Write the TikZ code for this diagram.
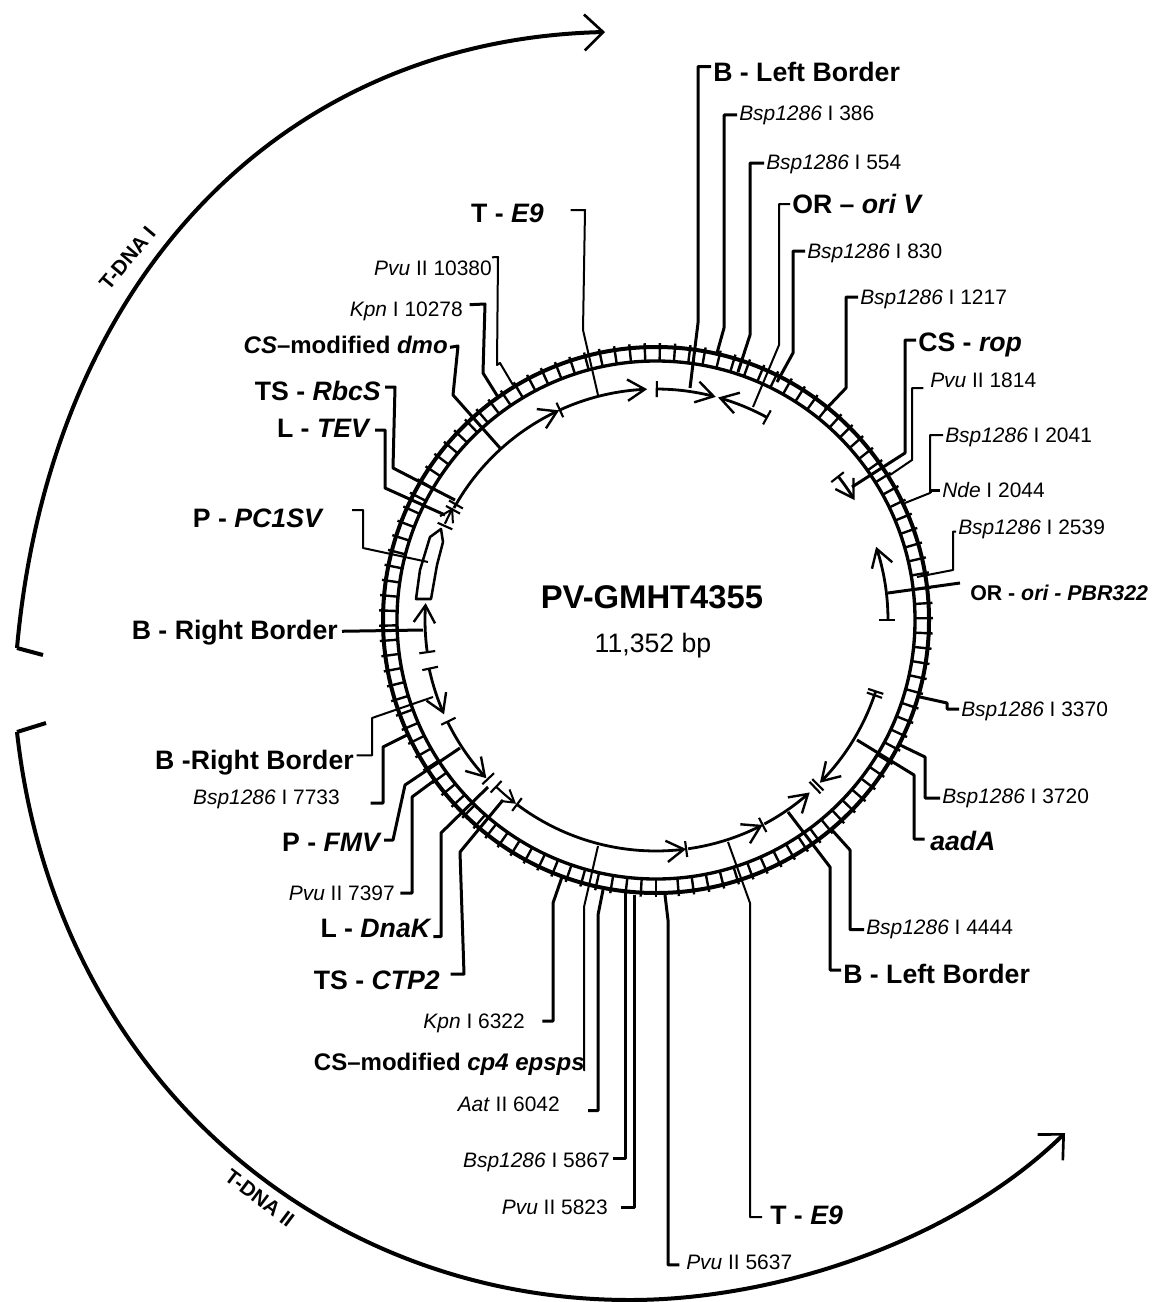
\documentclass[tikz,border=0pt]{standalone}
\usepackage{fontspec}
\setmainfont{Liberation Sans}
\usetikzlibrary{arrows.meta}

\tikzset{
    sitelabel/.style={inner sep=0pt, text height=11.3pt, text depth=0pt, font=\fontsize{15.7}{18}\selectfont},
    genelabel/.style={inner sep=0pt, text height=14.4pt, text depth=0pt, font=\bfseries\fontsize{20}{24}\selectfont},
    genesmall/.style={genelabel, text height=13pt, font=\bfseries\fontsize{18}{22}\selectfont},
    dnalabel/.style={inner sep=0pt, text height=11.3pt, text depth=0pt, font=\bfseries\fontsize{15.5}{18}\selectfont},
    thinlead/.style={line width=1.5pt, line join=round, shorten <=1.5pt},
    thicklead/.style={line width=2.25pt, line join=round, shorten <=1.5pt},
    featarc/.style={line width=2.1pt, -{Straight Barb[length=13pt,width=16pt,line width=1.8pt]}},
    featshort/.style={line width=1.6pt, -{Straight Barb[length=9pt,width=11pt,line width=1.5pt]}},
    featbar/.style={line width=1.6pt},
    ringtick/.style={line width=1.8pt},
    outerarc/.style={line width=3pt, -{Straight Barb[length=14pt,width=27pt,line width=2pt]}},
    hookend/.style={line width=3pt}
}

\begin{document}
\begin{tikzpicture}[x=0.75pt, y=-0.75pt]
    \useasboundingbox (0,0) rectangle (1174,1302);

    % plasmid ring and feature arcs, angles clockwise from east
    \begin{scope}[shift={(656,620)}]
        \draw[line width=3pt] (0,0) circle[radius=273];
        \draw[line width=2.5pt] (0,0) circle[radius=259];
        \foreach \n [evaluate=\n as \t using 90+\n*3.172] in {0,...,112}
            \draw[ringtick] (\t:259) -- (\t:277);

        \draw[featarc] plot[domain=172:184.2, samples=12] (\x:231);
        \draw[featshort] plot[domain=204.5:209, samples=6] (\x:232);
        \draw[featarc] plot[domain=209:245.2, samples=30] (\x:231);
        \draw[featarc] plot[domain=245.6:267.8, samples=20] (\x:231);
        \draw[featarc] plot[domain=270.2:285, samples=14] (\x:231);
        \draw[featarc] plot[domain=298.7:285.6, samples=14] (\x:231);
        \draw[featarc] plot[domain=321.8:328.9, samples=8] (\x:232);
        \draw[featarc] plot[domain=360:341.6, samples=16] (\x:232);
        \draw[featarc] plot[domain=18:44.8, samples=24] (\x:231);
        \draw[featarc] plot[domain=62:48.3, samples=14] (\x:231);
        \draw[featarc] plot[domain=82:62.5, samples=18] (\x:231);
        \draw[featarc] plot[domain=127:82.5, samples=36] (\x:231);
        \draw[featshort] plot[domain=133.8:127.3, samples=8] (\x:231);
        \draw[featarc] plot[domain=154:137, samples=16] (\x:232);
        \draw[featarc] plot[domain=167.9:156, samples=12] (\x:232);

        \foreach \t in {172,204,208.5,210,245.4,270.2,298.7,321.8,0,18,19,45.5,46.5,62.5,82.5,127,133.8,136.6,154,167.9}
            \draw[featbar] (\t:223) -- (\t:239);
    \end{scope}

    % P-PC1SV block
    \draw[line width=1.9pt, line join=round] (416,599) -- (420,570) -- (430,537) -- (441,529) -- (443,542) -- (437,565) -- (431,599) -- cycle;

    % T-DNA arcs
    \draw[hookend] (43,655) -- (17,648);
    \draw[outerarc] (17,648) .. controls (50,280) and (280,40) .. (605,32);
    \draw[hookend] (46,723) -- (17,732);
    \draw[outerarc] (17,732) .. controls (55,1075) and (320,1300) .. (630,1300) .. controls (770,1300) and (950,1245) .. (1065,1133);
    \node (tdnaa) [dnalabel, rotate=50] at (127,258) {T-DNA I};
    \node (tdnab) [dnalabel, rotate=-37] at (260,1198) {T-DNA II};

    % title
    \node (title) [font=\bfseries\fontsize{24.6}{28}\selectfont, inner sep=0pt, anchor=base] at (652,608) {PV-GMHT4355};
    \node (size) [font=\fontsize{20}{24}\selectfont, inner sep=0pt, anchor=base] at (653,652) {11,352 bp};

    % labels, right side
    \node (blefta) [genelabel, anchor=west] at (713,72) {B - Left Border};
    \node (bsp386) [sitelabel, anchor=west] at (739,113) {\textit{Bsp1286} I 386};
    \node (bsp554) [sitelabel, anchor=west] at (766,162) {\textit{Bsp1286} I 554};
    \node (oriv) [genelabel, anchor=west] at (792,204) {OR -- \textit{ori V}};
    \node (bsp830) [sitelabel, anchor=west] at (807,251) {\textit{Bsp1286} I 830};
    \node (bsp1217) [sitelabel, anchor=west] at (860,297) {\textit{Bsp1286} I 1217};
    \node (rop) [genelabel, anchor=west] at (918,342) {CS - \textit{rop}};
    \node (pvu1814) [sitelabel, anchor=west] at (930,380) {\textit{Pvu} II 1814};
    \node (bsp2041) [sitelabel, anchor=west] at (945,435) {\textit{Bsp1286} I 2041};
    \node (nde2044) [sitelabel, anchor=west] at (942,490) {\textit{Nde} I 2044};
    \node (bsp2539) [sitelabel, anchor=west] at (958,527) {\textit{Bsp1286} I 2539};
    \node (oripbr) [genelabel, text height=11.5pt, anchor=west, font=\bfseries\fontsize{16}{20}\selectfont] at (970,593) {OR - \textit{ori - PBR322}};
    \node (bsp3370) [sitelabel, anchor=west] at (961,709) {\textit{Bsp1286} I 3370};
    \node (bsp3720) [sitelabel, anchor=west] at (942,796) {\textit{Bsp1286} I 3720};
    \node (aada) [genelabel, anchor=west] at (930,841) {\textit{aadA}};
    \node (bsp4444) [sitelabel, anchor=west] at (866,927) {\textit{Bsp1286} I 4444};
    \node (bleftb) [genelabel, anchor=west] at (843,974) {B - Left Border};
    \node (eninb) [genelabel, anchor=west] at (770,1215) {T - \textit{E9}};
    \node (pvu5637) [sitelabel, anchor=west] at (686,1262) {\textit{Pvu} II 5637};

    % labels, left side
    \node (pvu5823) [sitelabel, anchor=east] at (608,1207) {\textit{Pvu} II 5823};
    \node (bsp5867) [sitelabel, anchor=east] at (610,1160) {\textit{Bsp1286} I 5867};
    \node (aat6042) [sitelabel, anchor=east] at (560,1104) {\textit{Aat} II 6042};
    \node (cpepsps) [genesmall, anchor=east] at (585,1062) {CS--modified \textit{cp4 epsps}};
    \node (kpn6322) [sitelabel, anchor=east] at (525,1021) {\textit{Kpn} I 6322};
    \node (ctptwo) [genelabel, anchor=east] at (440,980) {TS - \textit{CTP2}};
    \node (dnak) [genelabel, anchor=east] at (432,928) {L - \textit{DnaK}};
    \node (pvu7397) [sitelabel, anchor=east] at (395,893) {\textit{Pvu} II 7397};
    \node (fmv) [genelabel, anchor=east] at (382,842) {P - \textit{FMV}};
    \node (bsp7733) [sitelabel, anchor=east] at (340,797) {\textit{Bsp1286} I 7733};
    \node (brightb) [genelabel, anchor=east] at (354,760) {B -Right Border};
    \node (brighta) [genelabel, anchor=east] at (338,630) {B - Right Border};
    \node (pcsv) [genelabel, anchor=east] at (324,518) {P - \textit{PC1SV}};
    \node (tev) [genelabel, anchor=east] at (371,428) {L - \textit{TEV}};
    \node (rbcs) [genelabel, anchor=east] at (381,391) {TS - \textit{RbcS}};
    \node (dmo) [genesmall, anchor=east] at (448,345) {\textit{CS}--modified \textit{dmo}};
    \node (kpn10278) [sitelabel, anchor=east] at (463,309) {\textit{Kpn} I 10278};
    \node (pvu10380) [sitelabel, anchor=east] at (492,268) {\textit{Pvu} II 10380};
    \node (enina) [genelabel, anchor=east] at (544,213) {T - \textit{E9}};

    % free ends on the map
    \coordinate (bleftaend) at (690,388);
    \coordinate (bsp386end) at (717,353);
    \coordinate (bsp554end) at (738,372);
    \coordinate (orivend) at (753,407);
    \coordinate (bsp830end) at (777,382);
    \coordinate (bsp1217end) at (825,410);
    \coordinate (ropend) at (852,487);
    \coordinate (pvu1814end) at (890,475);
    \coordinate (ndeend) at (905,503);
    \coordinate (bsp2539end) at (917,577);
    \coordinate (oripbrend) at (888,593);
    \coordinate (bsp3370end) at (920,697);
    \coordinate (bsp3720end) at (898,744);
    \coordinate (aadaend) at (857,740);
    \coordinate (bsp4444end) at (832,830);
    \coordinate (bleftbend) at (788,812);
    \coordinate (eninbend) at (728,842);
    \coordinate (pvu5637end) at (665,895);
    \coordinate (pvu5823end) at (634,895);
    \coordinate (bsp5867end) at (625,893);
    \coordinate (aat6042end) at (603,890);
    \coordinate (cpepspsend) at (598,846);
    \coordinate (kpn6322end) at (562,877);
    \coordinate (ctptwoend) at (503,800);
    \coordinate (dnakend) at (488,787);
    \coordinate (pvu7397end) at (435,780);
    \coordinate (fmvend) at (460,748);
    \coordinate (bsp7733end) at (407,735);
    \coordinate (brightbend) at (433,697);
    \coordinate (brightaend) at (423,630);
    \coordinate (pcsvend) at (428,562);
    \coordinate (tevend) at (445,515);
    \coordinate (rbcsend) at (455,500);
    \coordinate (dmoend) at (500,448);
    \coordinate (kpn10278end) at (498,397);
    \coordinate (pvu10380end) at (513,385);
    \coordinate (eninaend) at (598,395);

    % leaders, right side
    \draw[thicklead] ([yshift=4pt]blefta.west) -| (698,323) -- (bleftaend);
    \draw[thicklead] ([yshift=-1.5pt]bsp386.west) -| (724,328) -- (bsp386end);
    \draw[thicklead] ([yshift=-0.8pt]bsp554.west) -| (750,335) -- (bsp554end);
    \draw[thinlead] (oriv.west) -| (779,345) -- (orivend);
    \draw[thicklead] (bsp830.west) -| (793,353) -- (bsp830end);
    \draw[thicklead] (bsp1217.west) -| (846,388) -- (bsp1217end);
    \draw[thicklead] ([yshift=1.5pt]rop.west) -| (905,453) -- (ropend);
    \draw[thinlead, shorten <=5pt] ([yshift=-6pt]pvu1814.west) -| (912,460) -- (pvu1814end);
    \draw[thinlead] (bsp2041.west) -| (930,493) -- (ndeend);
    \draw[thicklead] (nde2044.west) -| (930,493);
    \draw[thinlead] ([yshift=-3.5pt]bsp2539.west) -| (953,570) -- (bsp2539end);
    \draw[thicklead, shorten <=0pt] ([shift={(-7.5pt,7.5pt)}]oripbr.west) -- (oripbrend);
    \draw[thicklead] (bsp3370.west) -| (947,703) -- (bsp3370end);
    \draw[thicklead] ([yshift=-1.5pt]bsp3720.west) -| (925,757) -- (bsp3720end);
    \draw[thicklead, shorten <=4pt] ([yshift=1.5pt]aada.west) -| (914,775) -- (aadaend);
    \draw[thicklead] ([yshift=-2pt]bsp4444.west) -| (850,850) -- (bsp4444end);
    \draw[thicklead] ([yshift=3pt]bleftb.west) -| (830,867) -- (bleftbend);
    \draw[thinlead, shorten <=6pt] ([yshift=-1.5pt]eninb.west) -| (750,903) -- (eninbend);
    \draw[thicklead, shorten <=5pt] ([yshift=-2.2pt]pvu5637.west) -| (668,920) -- (pvu5637end);

    % leaders, left side
    \draw[thicklead, shorten <=10pt] (pvu5823.east) -| (634,895) -- (pvu5823end);
    \draw[thicklead, shorten <=2pt] ([yshift=1.5pt]bsp5867.east) -| (625,893) -- (bsp5867end);
    \draw[thicklead, shorten <=21pt] ([yshift=-5pt]aat6042.east) -| (598,915) -- (aat6042end);
    \draw[thinlead, shorten <=0pt] ([yshift=-6pt]cpepsps.east) -| (584,907) -- (cpepspsend);
    \draw[thicklead, shorten <=13pt] (kpn6322.east) -| (553,903) -- (kpn6322end);
    \draw[thicklead, shorten <=8pt] ([yshift=4.5pt]ctptwo.east) -- (464,974) -- (460,852) -- (ctptwoend);
    \draw[thicklead, shorten <=1pt] ([yshift=-6.5pt]dnak.east) -| (441,833) -- (dnakend);
    \draw[thicklead, shorten <=4pt] (pvu7397.east) -| (412,797) -- (pvu7397end);
    \draw[thicklead] ([yshift=1.5pt]fmv.east) -- (393,840) -- (405,785) -- (fmvend);
    \draw[thicklead, shorten <=23pt] ([yshift=-4.5pt]bsp7733.east) -| (383,747) -- (bsp7733end);
    \draw[thinlead, shorten <=2pt] ([yshift=3.5pt]brightb.east) -| (372,718) -- (brightbend);
    \draw[thicklead, shorten <=3pt] ([yshift=-1pt]brighta.east) -- (brightaend);
    \draw[thinlead, shorten <=21pt] ([yshift=6pt]pcsv.east) -| (363,548) -- (pcsvend);
    \draw[thicklead, shorten <=3pt] ([yshift=-1.5pt]tev.east) -| (385,488) -- (tevend);
    \draw[thicklead, shorten <=3pt] ([yshift=3pt]rbcs.east) -- (395,387) -- (393,468) -- (rbcsend);
    \draw[thicklead] ([yshift=-2pt]dmo.east) -- (458,346) -- (453,395) -- (dmoend);
    \draw[thicklead, shorten <=5pt] ([yshift=3pt]kpn10278.east) -- (485,304) -- (483,373) -- (kpn10278end);
    \draw[thinlead, shorten <=0pt] ([yshift=8pt]pvu10380.east) -- (498,257) -- (497,365) -- (500,363) -- (pvu10380end);
    \draw[thinlead, shorten <=20pt] ([yshift=2pt]enina.east) -- (585,210) -- (583,330) -- (eninaend);
\end{tikzpicture}
\end{document}
